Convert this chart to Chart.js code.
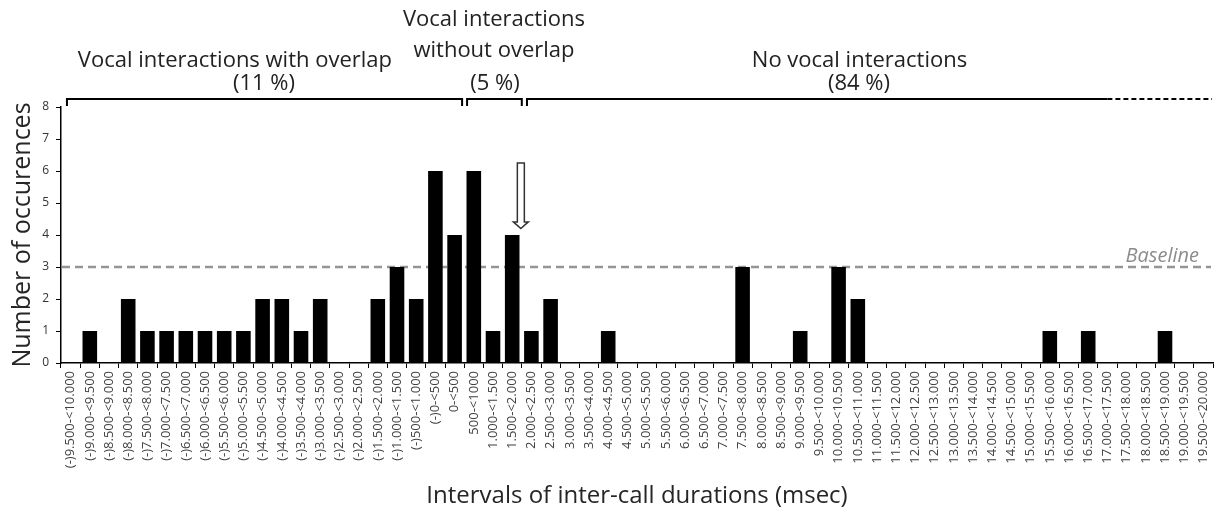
<!DOCTYPE html>
<html>
<head>
<meta charset="utf-8">
<script src="https://cdn.jsdelivr.net/npm/chart.js@4.4.1/dist/chart.umd.min.js"></script>
<style>
  html, body { margin: 0; padding: 0; background: #fff; }
  #chart { display: block; }
</style>
</head>
<body>
<canvas id="chart" width="1216" height="515"></canvas>
<script>
// interval classes (msec), negative = overlapping calls
const intervals = [
  "(-)9.500-<10.000", "(-)9.000-<9.500", "(-)8.500-<9.000", "(-)8.000-<8.500",
  "(-)7.500-<8.000", "(-)7.000-<7.500", "(-)6.500-<7.000", "(-)6.000-<6.500",
  "(-)5.500-<6.000", "(-)5.000-<5.500", "(-)4.500-<5.000", "(-)4.000-<4.500",
  "(-)3.500-<4.000", "(-)3.000-<3.500", "(-)2.500-<3.000", "(-)2.000-<2.500",
  "(-)1.500-<2.000", "(-)1.000-<1.500", "(-)500-<1.000", "(-)0-<500",
  "0-<500", "500-<1000",
  "1.000-<1.500", "1.500-<2.000", "2.000-<2.500", "2.500-<3.000",
  "3.000-<3.500", "3.500-<4.000", "4.000-<4.500", "4.500-<5.000",
  "5.000-<5.500", "5.500-<6.000", "6.000-<6.500", "6.500-<7.000",
  "7.000-<7.500", "7.500-<8.000", "8.000-<8.500", "8.500-<9.000",
  "9.000-<9.500", "9.500-<10.000", "10.000-<10.500", "10.500-<11.000",
  "11.000-<11.500", "11.500-<12.000", "12.000-<12.500", "12.500-<13.000",
  "13.000-<13.500", "13.500-<14.000", "14.000-<14.500", "14.500-<15.000",
  "15.000-<15.500", "15.500-<16.000", "16.000-<16.500", "16.500-<17.000",
  "17.000-<17.500", "17.500-<18.000", "18.000-<18.500", "18.500-<19.000",
  "19.000-<19.500", "19.500-<20.000"
];

const occurences = [
  0, 1, 0, 2, 1, 1, 1, 1, 1, 1, 2, 2, 1, 2, 0, 0, 2, 3, 2, 6,
  4, 6,
  1, 4, 1, 2, 0, 0, 1, 0, 0, 0, 0, 0, 0, 3, 0, 0, 1, 0,
  3, 2, 0, 0, 0, 0, 0, 0, 0, 0, 0, 1, 0, 1, 0, 0, 0, 1, 0, 0
];

const baselineValue = 3;
const yMax = 8;

// header brackets above the plot, in category units
const sections = [
  { title: ["Vocal interactions with overlap"], share: "(11 %)", from: -0.19, to: 20.39, titleAt: 8.56, shareAt: 10.07 },
  { title: ["Vocal interactions", "without overlap"], share: "(5 %)", from: 20.65, to: 23.5, titleAt: 22.05, shareAt: 22.1 },
  { title: ["No vocal interactions"], share: "(84 %)", from: 23.77, to: 54.0, dashedTo: 59.45, titleAt: 41.09, shareAt: 41.06 }
];

const textFont = "'Open Sans', sans-serif";

const baselinePlugin = {
  id: "baseline",
  beforeDatasetsDraw(chart) {
    const { ctx, chartArea, scales } = chart;
    const y = scales.y.getPixelForValue(baselineValue);
    ctx.save();
    ctx.strokeStyle = "#959595";
    ctx.lineWidth = 2.5;
    ctx.setLineDash([8, 5]);
    ctx.beginPath();
    ctx.moveTo(chartArea.left + 1, y);
    ctx.lineTo(chartArea.right - 2, y);
    ctx.stroke();
    ctx.setLineDash([]);
    ctx.fillStyle = "#8c8c8c";
    ctx.font = "italic 20px " + textFont;
    ctx.textAlign = "right";
    ctx.textBaseline = "alphabetic";
    ctx.fillText("Baseline", chartArea.right - 14, y - 5);
    ctx.restore();
  }
};

const headerPlugin = {
  id: "headers",
  afterDraw(chart) {
    const { ctx, chartArea, scales } = chart;
    const x = scales.x;
    const lineY = chartArea.top - 8;
    ctx.save();
    ctx.strokeStyle = "#000";
    ctx.lineWidth = 2;
    sections.forEach(s => {
      const x0 = x.getPixelForValue(s.from);
      const x1 = x.getPixelForValue(s.to);
      ctx.setLineDash([]);
      ctx.beginPath();
      ctx.moveTo(x0, lineY + 7);
      ctx.lineTo(x0, lineY);
      ctx.lineTo(x1, lineY);
      if (!s.dashedTo) ctx.lineTo(x1, lineY + 7);
      ctx.stroke();
      if (s.dashedTo) {
        ctx.setLineDash([5, 3]);
        ctx.beginPath();
        ctx.moveTo(x1, lineY);
        ctx.lineTo(x.getPixelForValue(s.dashedTo), lineY);
        ctx.stroke();
      }

      ctx.fillStyle = "#222";
      ctx.font = "22px " + textFont;
      ctx.textAlign = "center";
      ctx.textBaseline = "middle";
      const tx = x.getPixelForValue(s.titleAt);
      if (s.title.length === 1) {
        ctx.fillText(s.title[0], tx, 61);
      } else {
        ctx.fillText(s.title[0], tx, 20);
        ctx.fillText(s.title[1], tx, 51);
      }
      ctx.fillText(s.share, x.getPixelForValue(s.shareAt), 84);
    });

    // open arrow pointing at the 2 s boundary
    const ax = x.getPixelForValue(23.45);
    const yTop = scales.y.getPixelForValue(6.25);
    const yHead = scales.y.getPixelForValue(4.41);
    const yTip = scales.y.getPixelForValue(4.2);
    ctx.setLineDash([]);
    ctx.lineWidth = 1.5;
    ctx.strokeStyle = "#333";
    ctx.fillStyle = "#fff";
    ctx.beginPath();
    ctx.moveTo(ax - 3.5, yTop);
    ctx.lineTo(ax + 3.5, yTop);
    ctx.lineTo(ax + 3.5, yHead);
    ctx.lineTo(ax + 7.5, yHead);
    ctx.lineTo(ax, yTip);
    ctx.lineTo(ax - 7.5, yHead);
    ctx.lineTo(ax - 3.5, yHead);
    ctx.closePath();
    ctx.fill();
    ctx.stroke();
    ctx.restore();
  }
};

new Chart(document.getElementById("chart"), {
  type: "bar",
  data: {
    labels: intervals,
    datasets: [
      {
        label: "Occurences",
        data: occurences,
        backgroundColor: "#000",
        borderWidth: 0,
        barPercentage: 0.76,
        categoryPercentage: 1.0
      }
    ]
  },
  options: {
    responsive: false,
    animation: false,
    devicePixelRatio: 1,
    layout: { padding: { top: 107, right: 3, left: 0, bottom: 0 } },
    plugins: {
      legend: { display: false },
      tooltip: { enabled: false }
    },
    scales: {
      x: {
        grid: { display: true, drawOnChartArea: false, tickLength: 5, color: "#000", offset: true },
        border: { color: "#000", width: 1.5 },
        ticks: {
          autoSkip: false,
          maxRotation: 90,
          minRotation: 90,
          padding: 3,
          color: "#404040",
          font: { family: textFont, size: 13 }
        },
        title: {
          display: true,
          text: "Intervals of inter-call durations (msec)",
          color: "#262626",
          font: { family: textFont, size: 24 },
          padding: { top: 4, bottom: 4 }
        },
        afterFit(scale) {
          scale.height = 152;
          scale.paddingLeft = 0;
          scale.paddingRight = 0;
        }
      },
      y: {
        min: 0,
        max: yMax,
        grid: { display: true, drawOnChartArea: false, tickLength: 5, color: "#000" },
        border: { color: "#000", width: 1.5 },
        ticks: {
          stepSize: 1,
          padding: 7,
          color: "#333",
          font: { family: textFont, size: 12 }
        },
        title: {
          display: true,
          text: "Number of occurences",
          color: "#262626",
          font: { family: textFont, size: 25 },
          padding: { top: 8, bottom: 0 }
        },
        afterFit(scale) { scale.width = 61; }
      }
    }
  },
  plugins: [baselinePlugin, headerPlugin]
});
</script>
</body>
</html>
